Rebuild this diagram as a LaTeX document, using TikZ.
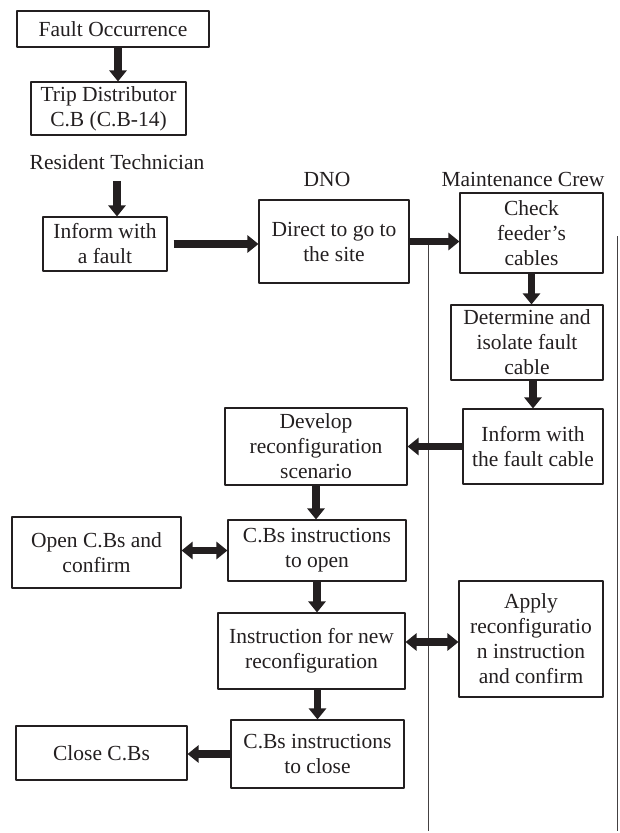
\documentclass[tikz,border=0pt]{standalone}
\usepackage{fontspec}
\setmainfont{Liberation Serif}
\usetikzlibrary{arrows.meta}
\definecolor{ink}{HTML}{231F20}
\begin{document}
\begin{tikzpicture}[x=1pt,y=-1pt,line join=round,
	box/.style={draw=ink,line width=1.1pt,text=ink,align=center,inner sep=0pt,font=\fontsize{21.5}{25}\selectfont},
	lbl/.style={text=ink,inner sep=0pt,font=\fontsize{21.5}{25}\selectfont},
	blk/.style={ink,line width=7.5pt,-{Triangle[width=17pt,length=11pt]}},
	dblk/.style={ink,line width=7.5pt,{Triangle[width=17pt,length=11pt]}-{Triangle[width=17pt,length=11pt]}},
	lane/.style={ink!85,line width=1pt}]
	\useasboundingbox (0,0) rectangle (619,833);
	% resident technician
	\node[box,minimum width=192pt,minimum height=36pt] (fault) at (113,29) {Fault Occurrence};
	\node[box,minimum width=155pt,minimum height=53pt] (trip) at (108.5,108.5) {Trip Distributor\\C.B (C.B-14)};
	\node[lbl] (resident) at (117,162) {Resident Technician};
	\node[box,minimum width=124pt,minimum height=54pt] (inform) at (105,244) {Inform with\\a fault};
	% DNO
	\node[lbl] (dno) at (327,179) {DNO};
	\node[box,minimum width=150pt,minimum height=83pt] (direct) at (334,241.5) {Direct to go to\\the site};
	\node[box,minimum width=182pt,minimum height=77pt] (develop) at (316,446.5) {Develop\\reconfiguration\\scenario};
	\node[box,minimum width=178pt,minimum height=61pt] (cbopen) at (317,550.5) {C.Bs instructions\\to open};
	\node[box,minimum width=187pt,minimum height=76pt] (instr) at (311.5,651) {Instruction for new\\reconfiguration};
	\node[box,minimum width=173pt,minimum height=68pt] (cbclose) at (317.5,754) {C.Bs instructions\\to close};
	\node[box,minimum width=169pt,minimum height=71pt] (openc) at (96.5,552.5) {Open C.Bs and\\confirm};
	\node[box,minimum width=171pt,minimum height=54pt] (closec) at (101.5,753) {Close C.Bs};
	% maintenance crew
	\node[lbl] (crew) at (523,179) {Maintenance Crew};
	\node[box,minimum width=143pt,minimum height=80pt] (check) at (531.5,233) {Check\\feeder{\char"0027}s\\cables};
	\node[box,minimum width=152pt,minimum height=75pt] (determine) at (527,342.5) {Determine and\\isolate fault\\cable};
	\node[box,minimum width=140pt,minimum height=75pt] (cable) at (533,446.5) {Inform with\\the fault cable};
	\node[box,minimum width=144pt,minimum height=116pt] (apply) at (531,639) {Apply\\reconfiguratio\\n instruction\\and confirm};
	% lanes
	\draw[lane] (428,238)--(428,831);
	\draw[lane] (617,236)--(617,831);
	% arrows
	\draw[blk] ([xshift=5pt]fault.south)--([xshift=5pt]fault.south |- trip.north);
	\draw[blk,shorten <=11pt] (resident.south)--(resident.south |- inform.north);
	\draw[blk,shorten <=6pt] (inform.east)--(inform.east -| direct.west);
	\draw[blk] (direct.east)--(direct.east -| check.west);
	\draw[blk] (check.south)--(check.south |- determine.north);
	\draw[blk] (determine.south -| cable.north)--(cable.north);
	\draw[blk] (cable.west)--(cable.west -| develop.east);
	\draw[blk] (develop.south)--(develop.south |- cbopen.north);
	\draw[dblk] (openc.east |- cbopen.west)--(cbopen.west);
	\draw[blk] (cbopen.south)--(cbopen.south |- instr.north);
	\draw[dblk] ([yshift=9pt]instr.east)--([yshift=9pt]instr.east -| apply.west);
	\draw[blk] (cbclose.north |- instr.south)--(cbclose.north);
	\draw[blk] (cbclose.west)--(cbclose.west -| closec.east);
\end{tikzpicture}
\end{document}
